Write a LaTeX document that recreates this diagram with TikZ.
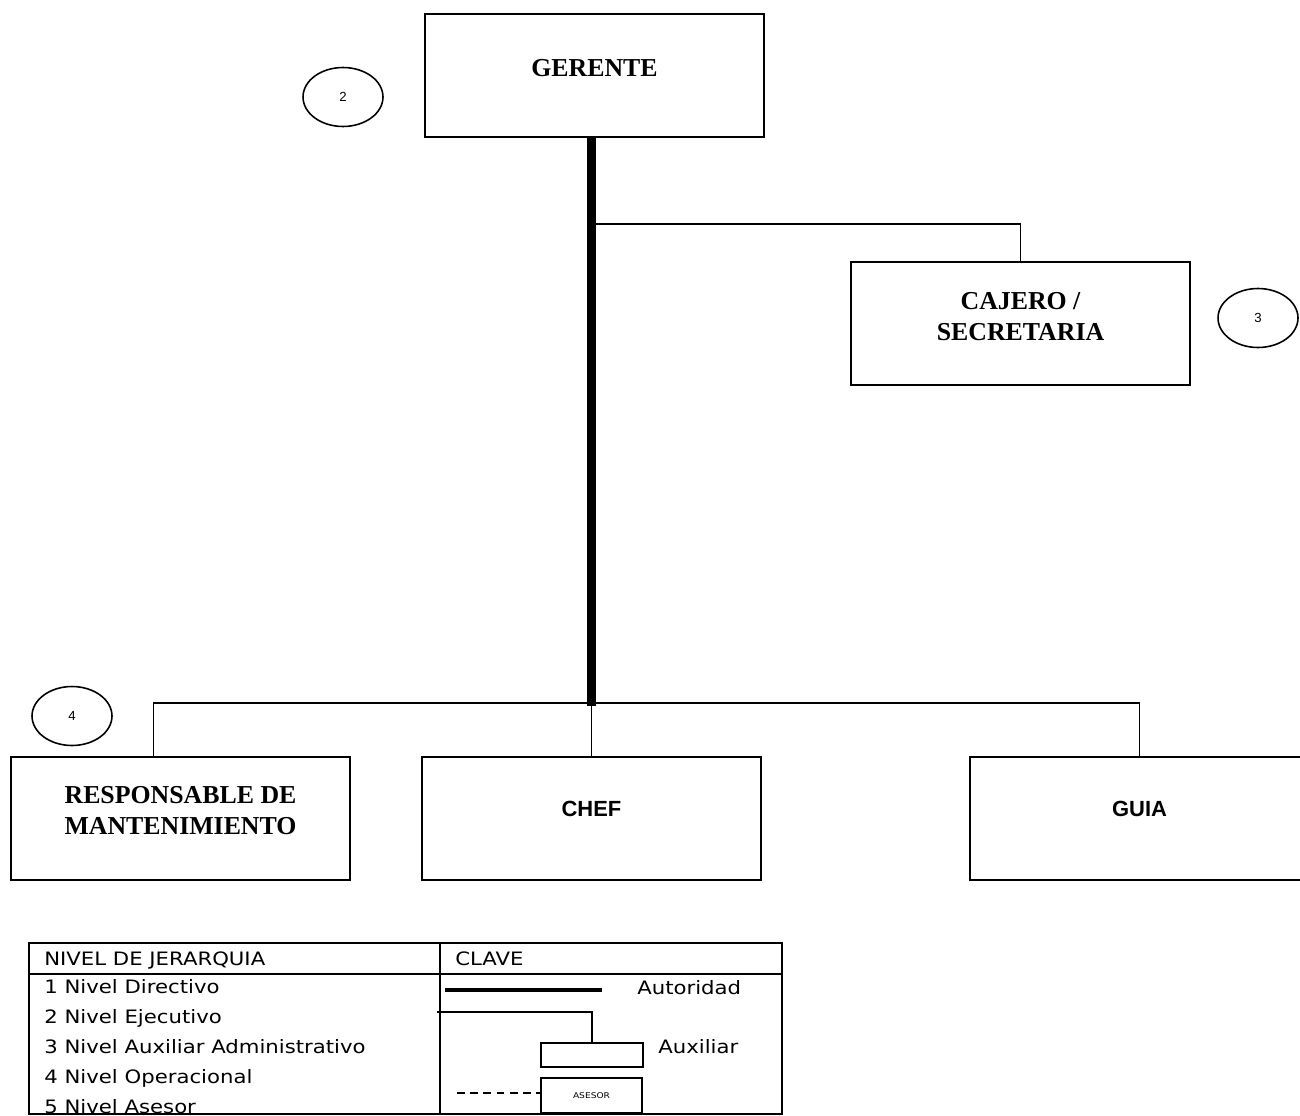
\documentclass[tikz,border=0pt]{standalone}
\usepackage{fontspec}
\setmainfont{Liberation Serif}
\newfontfamily\arialf{Liberation Sans}
\newfontfamily\legf[FakeStretch=1.15]{DejaVu Sans}
\usetikzlibrary{positioning,calc,shapes.geometric}

\begin{document}
\begin{tikzpicture}[x=0.02cm,y=-0.02cm,
  box/.style={draw,line width=1.1pt,minimum width=6.78cm,minimum height=2.46cm,inner sep=0pt},
  cargo/.style={font=\fontsize{14.7}{17.6}\selectfont\bfseries,align=center},
  cargosf/.style={font=\arialf\fontsize{12.5}{15}\selectfont\bfseries},
  nivel/.style={draw,ellipse,line width=0.9pt,minimum width=1.6cm,minimum height=1.18cm,inner sep=0pt,font=\arialf\fontsize{7.5}{9}\selectfont},
  linea/.style={line width=1.1pt},
  autoridad/.style={line width=5pt},
  leyenda/.style={font=\legf\fontsize{10.5}{12}\selectfont,anchor=base west,inner sep=0pt},
  clavebox/.style={draw,line width=1pt,inner sep=0pt}]
\useasboundingbox (0,0) rectangle (1300,1115);

% organigrama
\node[box,label={[cargo,yshift=0.15cm]center:GERENTE}] (gerente) at (594.5,75.5) {};
\node[box,label={[cargo,yshift=0.14cm]center:CAJERO /\\SECRETARIA}] (cajero) at (1020.5,323.5) {};
\node[box,label={[cargo,yshift=0.16cm]center:RESPONSABLE DE\\MANTENIMIENTO}] (resp) at (180.5,818.5) {};
\node[box,label={[cargosf,yshift=0.2cm]center:CHEF}] (chef) at (591.5,818.5) {};
\node[box,label={[cargosf,yshift=0.2cm]center:GUIA}] (guia) at (1139.5,818.5) {};

\node[nivel] (n2) at (343,97) {2};
\node[nivel] (n3) at (1258,318) {3};
\node[nivel] (n4) at (72,716) {4};

\coordinate (rama) at (591.5,224);
\coordinate (bus) at (591.5,703);
\draw[autoridad] (gerente.south -| chef.north) -- ($(bus)+(0,3)$);
\draw[linea] (rama) -| (cajero.north);
\draw[linea] ($(resp.north)+(-27,0)$) |- (bus) -| (guia.north);
\draw[linea] (bus) -- (chef.north);

% leyenda
\draw[line width=1pt] (29,943) rectangle (782,1114);
\draw[line width=1pt] (29,974) -- (782,974);
\draw[line width=1pt] (440,943) -- (440,1114);
\node[leyenda] (h1) at (44,965) {NIVEL DE JERARQUIA};
\node[leyenda] (h2) at (455,965) {CLAVE};
\foreach \t [count=\i] in {1 Nivel Directivo,2 Nivel Ejecutivo,3 Nivel Auxiliar Administrativo,4 Nivel Operacional,5 Nivel Asesor}
  \node[leyenda] (niv\i) at (44,{993+30*(\i-1)}) {\t};

\coordinate (a1) at (445,990);
\coordinate (a2) at (602,990);
\draw[line width=2.4pt] (a1) -- (a2);
\node[leyenda] (autoridad) at (637,994) {Autoridad};
\node[clavebox,minimum width=2.04cm,minimum height=0.48cm] (aux) at (592,1055) {};
\coordinate (x1) at (437,1012);
\draw[line width=1pt] (x1) -| (aux.north);
\node[leyenda] (auxiliar) at (658,1053) {Auxiliar};
\node[clavebox,minimum width=2.02cm,minimum height=0.7cm,font=\legf\fontsize{4.5}{5}\selectfont] (asesor) at (591.5,1095.5) {ASESOR};
\coordinate (d1) at (457,1093);
\draw[line width=0.9pt,dash pattern=on 4.5pt off 3pt] (d1) -- (asesor.west |- d1);
\end{tikzpicture}
\end{document}
